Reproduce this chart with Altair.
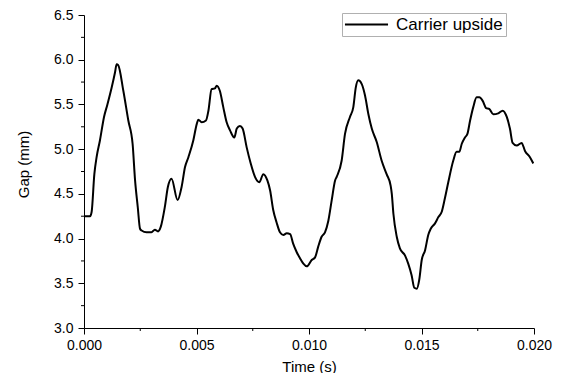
import altair as alt
import pandas as pd

# --- data ---
times = [0.00000, 0.00027, 0.00034, 0.00046, 0.00056, 0.00071, 0.00089, 0.00104,
         0.00123, 0.00138, 0.00145, 0.00152, 0.00175, 0.00197, 0.00216, 0.00227,
         0.00239, 0.00249, 0.00256, 0.00278, 0.00300, 0.00315, 0.00329, 0.00341,
         0.00359, 0.00373, 0.00389, 0.00416, 0.00434, 0.00449, 0.00464, 0.00486,
         0.00501, 0.00508, 0.00523, 0.00542, 0.00553, 0.00567, 0.00582, 0.00590,
         0.00604, 0.00619, 0.00634, 0.00649, 0.00668, 0.00679, 0.00693, 0.00705,
         0.00723, 0.00741, 0.00760, 0.00779, 0.00797, 0.00815, 0.00827, 0.00841,
         0.00856, 0.00871, 0.00886, 0.00901, 0.00916, 0.00930, 0.00945, 0.00960,
         0.00975, 0.00990, 0.01012, 0.01027, 0.01041, 0.01056, 0.01071, 0.01086,
         0.01101, 0.01116, 0.01123, 0.01145, 0.01160, 0.01182, 0.01197, 0.01208,
         0.01219, 0.01234, 0.01249, 0.01264, 0.01279, 0.01301, 0.01323, 0.01345,
         0.01363, 0.01368, 0.01375, 0.01390, 0.01404, 0.01427, 0.01441, 0.01456,
         0.01468, 0.01479, 0.01490, 0.01501, 0.01516, 0.01530, 0.01541, 0.01560,
         0.01575, 0.01590, 0.01604, 0.01619, 0.01641, 0.01656, 0.01668, 0.01679,
         0.01693, 0.01704, 0.01716, 0.01730, 0.01745, 0.01757, 0.01772, 0.01787,
         0.01801, 0.01819, 0.01841, 0.01861, 0.01879, 0.01893, 0.01905, 0.01923,
         0.01945, 0.01960, 0.01982, 0.01997]
gaps = [4.25, 4.25, 4.30, 4.72, 4.91, 5.10, 5.36, 5.50,
        5.69, 5.86, 5.95, 5.94, 5.65, 5.32, 5.06, 4.65,
        4.35, 4.11, 4.09, 4.07, 4.07, 4.10, 4.08, 4.13,
        4.35, 4.58, 4.67, 4.43, 4.58, 4.80, 4.91, 5.10,
        5.28, 5.33, 5.30, 5.32, 5.43, 5.67, 5.68, 5.71,
        5.65, 5.47, 5.30, 5.21, 5.13, 5.23, 5.26, 5.23,
        5.02, 4.84, 4.69, 4.63, 4.72, 4.65, 4.54, 4.32,
        4.18, 4.07, 4.04, 4.06, 4.05, 3.94, 3.85, 3.78,
        3.72, 3.69, 3.76, 3.79, 3.91, 4.02, 4.07, 4.20,
        4.43, 4.65, 4.69, 4.87, 5.17, 5.36, 5.47, 5.69,
        5.77, 5.73, 5.60, 5.39, 5.23, 5.08, 4.87, 4.72,
        4.59, 4.50, 4.28, 4.02, 3.89, 3.81, 3.72, 3.59,
        3.45, 3.44, 3.54, 3.76, 3.87, 4.04, 4.11, 4.17,
        4.24, 4.30, 4.45, 4.63, 4.87, 4.97, 4.97, 5.06,
        5.13, 5.17, 5.32, 5.47, 5.58, 5.58, 5.54, 5.46,
        5.45, 5.39, 5.40, 5.43, 5.36, 5.23, 5.07, 5.04,
        5.07, 4.98, 4.91, 4.84]
series_name = "Carrier upside"

x_major = [0.0, 0.005, 0.010, 0.015, 0.020]
x_minor = [0.0025, 0.0075, 0.0125, 0.0175]
y_major = [3.0, 3.5, 4.0, 4.5, 5.0, 5.5, 6.0, 6.5]
y_minor = [3.25, 3.75, 4.25, 4.75, 5.25, 5.75, 6.25]

FONT = "Liberation Sans"
W, H = 450, 313

df = pd.DataFrame({"time": times, "gap": gaps, "series": series_name})
xminor_df = pd.DataFrame({"time": x_minor})
yminor_df = pd.DataFrame({"gap": y_minor})

x_scale = alt.Scale(domain=[0.0, 0.020], nice=False, zero=False)
y_scale = alt.Scale(domain=[3.0, 6.5], nice=False, zero=False)

x_axis = alt.Axis(title="Time (s)", values=x_major, format=".3f", labelFlush=False,
                  titleY=31, titleFontSize=15, titleFontWeight="normal")
y_axis = alt.Axis(title="Gap (mm)", values=y_major, format=".1f", labelFlush=False,
                  titleX=-53, titleY=149, titleFontSize=15,
                  titleFontWeight="normal")

line = alt.Chart(df).mark_line(strokeWidth=2, interpolate="monotone", clip=True).encode(
    x=alt.X("time:Q", scale=x_scale, axis=x_axis),
    y=alt.Y("gap:Q", scale=y_scale, axis=y_axis),
    color=alt.Color("series:N", scale=alt.Scale(range=["black"]),
                    legend=alt.Legend(title=None, orient="none", legendX=258, legendY=-2,
                                      symbolType="M-4,0H4", symbolSize=116,
                                      symbolOffset=13,
                                      symbolStrokeWidth=2, labelFontSize=17,
                                      labelFont=FONT, labelColor="black",
                                      labelOffset=21, padding=3,
                                      strokeColor="#b0b0b0", fillColor="white")),
)

xminor = alt.Chart(xminor_df).mark_rule(color="black", strokeWidth=1).encode(
    x=alt.X("time:Q", scale=x_scale, axis=x_axis),
    y=alt.value(H),
    y2=alt.value(H + 3),
)

yminor = alt.Chart(yminor_df).mark_rule(color="black", strokeWidth=1).encode(
    y=alt.Y("gap:Q", scale=y_scale, axis=y_axis),
    x=alt.value(0),
    x2=alt.value(-3),
)

chart = alt.layer(line, xminor, yminor).properties(
    width=W, height=H,
    autosize=alt.AutoSizeParams(type="none"),
    padding={"left": 76, "top": 7, "right": 21, "bottom": 45},
    background="white",
).configure_axis(
    grid=False, domainColor="black", tickColor="black", labelColor="black",
    titleColor="black", tickSize=6, domainWidth=1, tickWidth=1,
    labelFont=FONT, titleFont=FONT, labelFontSize=14, labelPadding=4,
).configure_axisY(labelPadding=5).configure_view(strokeWidth=0)

chart.save("out.html", embed_options={"renderer": "svg", "actions": False})
